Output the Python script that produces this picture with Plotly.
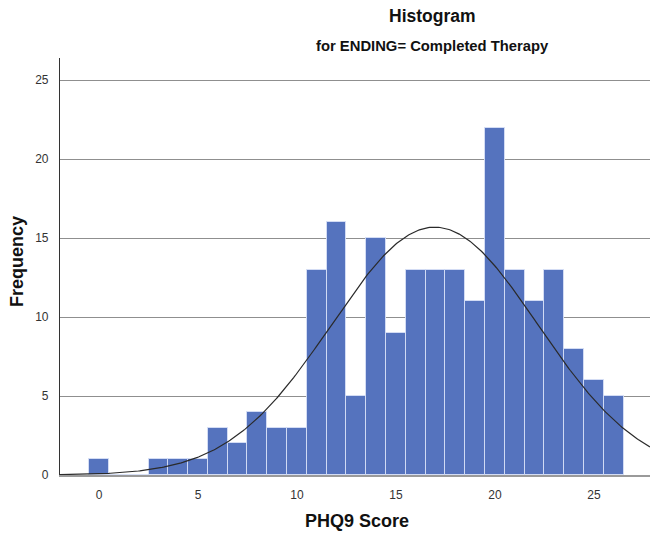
import numpy as np
import plotly.graph_objects as go

# PHQ9 score bins (width 1) and patient counts, ENDING = Completed Therapy
scores = list(range(0, 27))
counts = [1, 0, 0, 1, 1, 1, 3, 2, 4, 3, 3, 13, 16, 5, 15, 9, 13, 13, 13, 11, 22, 13, 11, 13, 8, 6, 5]

x_ticks = [0, 5, 10, 15, 20, 25]
y_ticks = [0, 5, 10, 15, 20, 25]
x_range = [-1.97, 27.83]
y_range = [0, 26.4]

# Normal curve fitted to the binned data, scaled to frequency
s = np.array(scores, dtype=float)
c = np.array(counts, dtype=float)
n = c.sum()
mean = (s * c).sum() / n
sd = np.sqrt(((s - mean) ** 2 * c).sum() / (n - 1))
xc = np.linspace(x_range[0], x_range[1], 400)
yc = n * 1.0 / (sd * np.sqrt(2 * np.pi)) * np.exp(-0.5 * ((xc - mean) / sd) ** 2)

FONT = "Liberation Sans, Arial, sans-serif"

fig = go.Figure()
fig.add_trace(go.Bar(
    x=scores, y=counts, width=1,
    marker=dict(color="#5573be", line=dict(color="rgba(215,224,246,0.9)", width=1)),
    hoverinfo="x+y", showlegend=False,
))
fig.add_trace(go.Scatter(
    x=xc, y=yc, mode="lines",
    line=dict(color="#2a2a2a", width=1.2),
    hoverinfo="skip", showlegend=False,
))

# plot area in pixels: left 60, right 650, top 58, bottom 475
L, R, T, B = 60, 650, 58, 475
W, H = 650, 536


def px(xp):
    return (xp - L) / (R - L)


def py(yp):
    return (B - yp) / (B - T)


fig.update_layout(
    width=W, height=H,
    margin=dict(l=L, r=W - R, t=T, b=H - B, pad=0),
    paper_bgcolor="white", plot_bgcolor="white",
    bargap=0,
    font=dict(family=FONT, color="#222"),
    xaxis=dict(
        range=x_range, tickvals=x_ticks, ticktext=[str(v) for v in x_ticks],
        showgrid=False, zeroline=False,
        showline=True, linecolor="#9a9a9a", linewidth=1.5,
        ticks="", ticklabelstandoff=8,
        tickfont=dict(family=FONT, size=12, color="#333"),
    ),
    yaxis=dict(
        range=y_range, tickvals=y_ticks, ticktext=[str(v) for v in y_ticks],
        showgrid=True, gridcolor="#8f8f8f", gridwidth=1.3,
        zeroline=False,
        showline=True, linecolor="#333", linewidth=1.2,
        ticks="", ticklabelstandoff=8,
        tickfont=dict(family=FONT, size=12, color="#333"),
    ),
    annotations=[
        dict(text="<b>Histogram</b>", x=px(432), y=py(16), xref="paper", yref="paper",
             showarrow=False, xanchor="center", yanchor="middle",
             font=dict(family=FONT, size=17.5, color="#111")),
        dict(text="<b>for ENDING= Completed Therapy</b>", x=px(432), y=py(46),
             xref="paper", yref="paper", showarrow=False,
             xanchor="center", yanchor="middle",
             font=dict(family=FONT, size=14.8, color="#111")),
        dict(text="<b>PHQ9 Score</b>", x=px(357), y=py(521), xref="paper", yref="paper",
             showarrow=False, xanchor="center", yanchor="middle",
             font=dict(family=FONT, size=18, color="#111")),
        dict(text="<b>Frequency</b>", x=px(17), y=py(262), xref="paper", yref="paper",
             showarrow=False, xanchor="center", yanchor="middle", textangle=-90,
             font=dict(family=FONT, size=18, color="#111")),
    ],
)

fig.write_html("out.html")
